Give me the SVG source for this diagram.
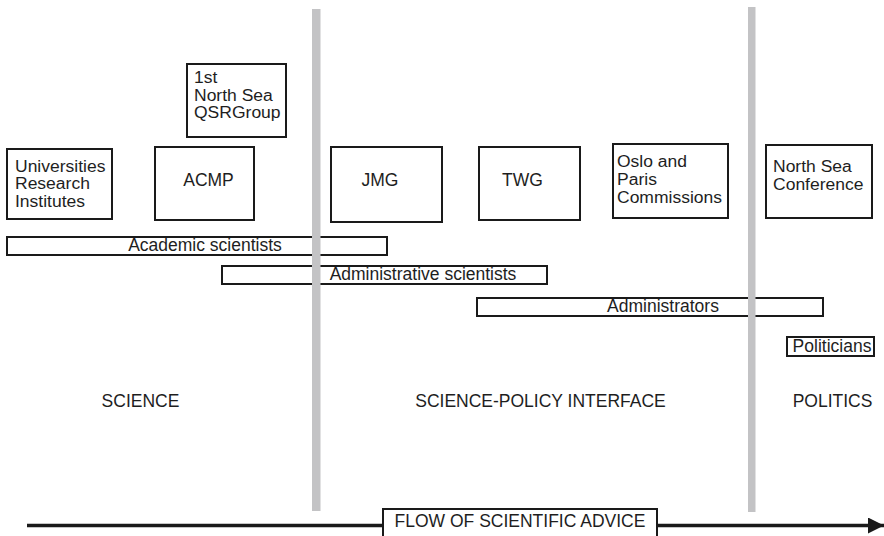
<svg xmlns="http://www.w3.org/2000/svg" width="884" height="536" viewBox="0 0 884 536">
  <defs>
    <style>
      .box { fill: #ffffff; stroke: #1a1a1a; stroke-width: 2; }
      .lbl { font-family: "Liberation Sans", Arial, sans-serif; font-size: 17.5px; fill: #1e1e1e; }
      .ml { font-family: "Liberation Sans", Arial, sans-serif; font-size: 15.6px; fill: #1e1e1e; }
      .mid { text-anchor: middle; }
      .divider { fill: #c3c3c5; }
      .flow { stroke: #1a1a1a; stroke-width: 3.5; fill: none; }
    </style>
    <marker id="arrowhead" markerUnits="userSpaceOnUse" markerWidth="18" markerHeight="16" refX="16" refY="8" orient="auto">
      <path d="M0,0 L16,8 L0,16 Z" fill="#1a1a1a"/>
    </marker>
  </defs>

  <rect width="884" height="536" fill="#ffffff"/>

  <!-- organisations -->
  <g id="qsr-group">
    <rect class="box" x="187" y="64" width="99" height="73"/>
    <text class="ml" x="194" y="83" textLength="23.3" lengthAdjust="spacingAndGlyphs">1st</text>
    <text class="ml" x="194" y="100.5" textLength="78.8" lengthAdjust="spacingAndGlyphs">North Sea</text>
    <text class="ml" x="194" y="118" textLength="86.6" lengthAdjust="spacingAndGlyphs">QSRGroup</text>
  </g>
  <g id="universities">
    <rect class="box" x="7" y="149" width="105" height="70"/>
    <text class="ml" x="15" y="171.5" textLength="90.4" lengthAdjust="spacingAndGlyphs">Universities</text>
    <text class="ml" x="15" y="189" textLength="74.9" lengthAdjust="spacingAndGlyphs">Research</text>
    <text class="ml" x="15" y="206.5" textLength="70" lengthAdjust="spacingAndGlyphs">Institutes</text>
  </g>
  <g id="acmp">
    <rect class="box" x="155" y="147" width="99" height="73"/>
    <text class="lbl mid" x="208.5" y="186">ACMP</text>
  </g>
  <g id="jmg">
    <rect class="box" x="331" y="147" width="111" height="75"/>
    <text class="lbl mid" x="380" y="186">JMG</text>
  </g>
  <g id="twg">
    <rect class="box" x="479" y="147" width="101" height="73"/>
    <text class="lbl mid" x="522.5" y="186">TWG</text>
  </g>
  <g id="oslo-paris">
    <rect class="box" x="613" y="144" width="115" height="74"/>
    <text class="ml" x="617" y="167" textLength="70" lengthAdjust="spacingAndGlyphs">Oslo and</text>
    <text class="ml" x="617" y="185" textLength="39.9" lengthAdjust="spacingAndGlyphs">Paris</text>
    <text class="ml" x="617" y="203" textLength="105" lengthAdjust="spacingAndGlyphs">Commissions</text>
  </g>
  <g id="north-sea-conference">
    <rect class="box" x="766" y="145" width="106" height="73"/>
    <text class="ml" x="773" y="172" textLength="78.8" lengthAdjust="spacingAndGlyphs">North Sea</text>
    <text class="ml" x="773" y="189.5" textLength="90.5" lengthAdjust="spacingAndGlyphs">Conference</text>
  </g>

  <!-- actor ranges -->
  <g id="academic-scientists">
    <rect class="box" x="7" y="237" width="380" height="18"/>
    <text class="lbl mid" x="205" y="250.5">Academic scientists</text>
  </g>
  <g id="administrative-scientists">
    <rect class="box" x="222" y="266" width="325" height="18"/>
    <text class="lbl mid" x="423" y="280">Administrative scientists</text>
  </g>
  <g id="administrators">
    <rect class="box" x="477" y="298" width="346" height="18"/>
    <text class="lbl mid" x="663" y="311.5">Administrators</text>
  </g>
  <g id="politicians">
    <rect class="box" x="787" y="337" width="87" height="19"/>
    <text class="lbl mid" x="832" y="351.5">Politicians</text>
  </g>

  <!-- domain dividers -->
  <g id="dividers">
    <rect class="divider" x="312" y="9" width="8.5" height="502"/>
    <rect class="divider" x="748" y="7" width="7.5" height="505"/>
  </g>

  <!-- domain names -->
  <g id="domains">
    <text class="lbl mid" x="140.5" y="407">SCIENCE</text>
    <text class="lbl mid" x="540.5" y="407">SCIENCE-POLICY INTERFACE</text>
    <text class="lbl mid" x="832.5" y="407">POLITICS</text>
  </g>

  <!-- advice flow -->
  <g id="connectors">
    <line class="flow" x1="27" y1="525.5" x2="884" y2="525.5" marker-end="url(#arrowhead)"/>
  </g>
  <g id="flow-label">
    <rect class="box" x="383" y="509" width="274" height="30"/>
    <text class="lbl mid" x="520" y="527">FLOW OF SCIENTIFIC ADVICE</text>
  </g>
</svg>
